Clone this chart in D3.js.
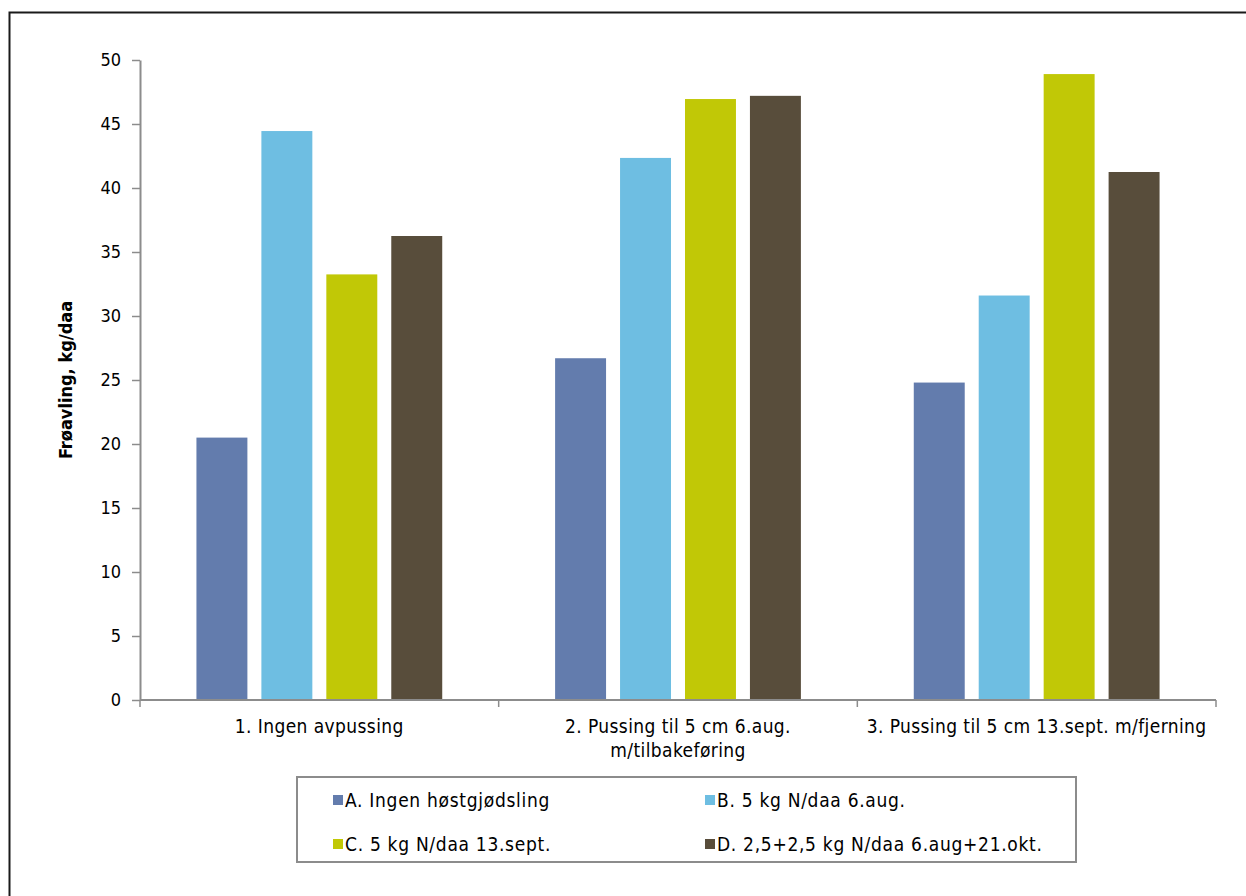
<!DOCTYPE html>
<html><head><meta charset="utf-8">
<script src="https://cdn.jsdelivr.net/npm/d3@7"></script>
<style>
html,body{margin:0;padding:0;background:#fff;}
svg{display:block;}
text{font-family:"DejaVu Sans Condensed","DejaVu Sans",sans-serif;fill:#000;}
</style></head>
<body>
<svg id="chart" width="1246" height="896"></svg>
<script>
const categories = ["1. Ingen avpussing", "2. Pussing til 5 cm 6.aug.\nm/tilbakeføring", "3. Pussing til 5 cm 13.sept. m/fjerning"];
const seriesNames = ["A. Ingen høstgjødsling", "B. 5 kg N/daa 6.aug.", "C. 5 kg N/daa 13.sept.", "D. 2,5+2,5 kg N/daa 6.aug+21.okt."];
const seriesA = [20.5, 26.7, 24.8];
const seriesB = [44.45, 42.35, 31.6];
const seriesC = [33.25, 46.95, 48.9];
const seriesD = [36.25, 47.2, 41.25];
const yTicks = [0, 5, 10, 15, 20, 25, 30, 35, 40, 45, 50];
const colors = ["#637CAD", "#6EBEE2", "#C1C806", "#584D3B"];
const yLabel = "Frøavling, kg/daa";

const allSeries = [seriesA, seriesB, seriesC, seriesD];
const svg = d3.select("#chart");

// outer frame
svg.append("path").attr("d", "M9.5,896 V12.5 H1246").attr("fill", "none").attr("stroke", "#1a1a1a").attr("stroke-width", 2);

const mLeft = 140, mRight = 1216, mTop = 60, mBottom = 700;
const x0 = d3.scaleBand().domain(categories).range([mLeft, mRight]).paddingInner(0).paddingOuter(0);
const x1 = d3.scaleBand().domain(seriesNames).range([0, x0.bandwidth()]).paddingInner(0.2154).paddingOuter(0.869);
const y = d3.scaleLinear().domain([0, 50]).range([mBottom, mTop]);

// bars
categories.forEach((c, ci) => {
  const g = svg.append("g").attr("transform", `translate(${x0(c)},0)`);
  seriesNames.forEach((s, si) => {
    const v = allSeries[si][ci];
    g.append("rect").attr("x", x1(s)).attr("y", y(v)).attr("width", x1.bandwidth()).attr("height", y(0) - y(v)).attr("fill", colors[si]);
  });
});

// y axis
const yAxis = svg.append("g").attr("transform", `translate(${mLeft},0)`)
  .call(d3.axisLeft(y).tickValues(yTicks).tickSize(8).tickPadding(11).tickSizeOuter(0));
yAxis.select(".domain").attr("stroke", "#8c8c8c").attr("stroke-width", 2);
yAxis.selectAll(".tick line").attr("stroke", "#8c8c8c").attr("stroke-width", 1.5);
yAxis.selectAll(".tick text").attr("font-size", 18).attr("font-family", "DejaVu Sans Condensed, DejaVu Sans, sans-serif").attr("fill", "#000");

// x axis
const xAxis = svg.append("g").attr("transform", `translate(0,${mBottom})`);
xAxis.append("line").attr("x1", mLeft).attr("x2", mRight).attr("y1", 0).attr("y2", 0).attr("stroke", "#8c8c8c").attr("stroke-width", 2);
const boundaries = categories.map(c => x0(c)).concat([x0(categories[categories.length - 1]) + x0.bandwidth()]);
xAxis.selectAll("line.tk").data(boundaries).enter().append("line").attr("class", "tk")
  .attr("x1", d => d).attr("x2", d => d).attr("y1", 0).attr("y2", 7).attr("stroke", "#8c8c8c").attr("stroke-width", 1.5);
categories.forEach(c => {
  const lines = c.split("\n");
  const t = xAxis.append("text").attr("text-anchor", "middle").attr("font-size", 19).attr("letter-spacing", 0.4)
    .attr("x", x0(c) + x0.bandwidth() / 2).attr("y", 33);
  lines.forEach((l, i) => t.append("tspan").attr("x", x0(c) + x0.bandwidth() / 2).attr("dy", i === 0 ? 0 : 24).text(l));
});

// y label
svg.append("text").attr("transform", `translate(72,${(mTop + mBottom) / 2}) rotate(-90)`)
  .attr("text-anchor", "middle").attr("font-size", 18).attr("font-weight", "bold").text(yLabel);

// legend
const lg = svg.append("g");
lg.append("rect").attr("x", 297).attr("y", 777).attr("width", 779).attr("height", 85).attr("fill", "#fff").attr("stroke", "#8c8c8c").attr("stroke-width", 2);
const legendPos = [[333, 800], [705, 800], [333, 844], [705, 844]];
seriesNames.forEach((s, i) => {
  const [lx, ly] = legendPos[i];
  lg.append("rect").attr("x", lx).attr("y", ly - 5).attr("width", 10).attr("height", 10).attr("fill", colors[i]);
  lg.append("text").attr("x", lx + 12).attr("y", ly + 7).attr("font-size", 19).attr("letter-spacing", 0.7).text(s);
});
</script>
</body></html>
